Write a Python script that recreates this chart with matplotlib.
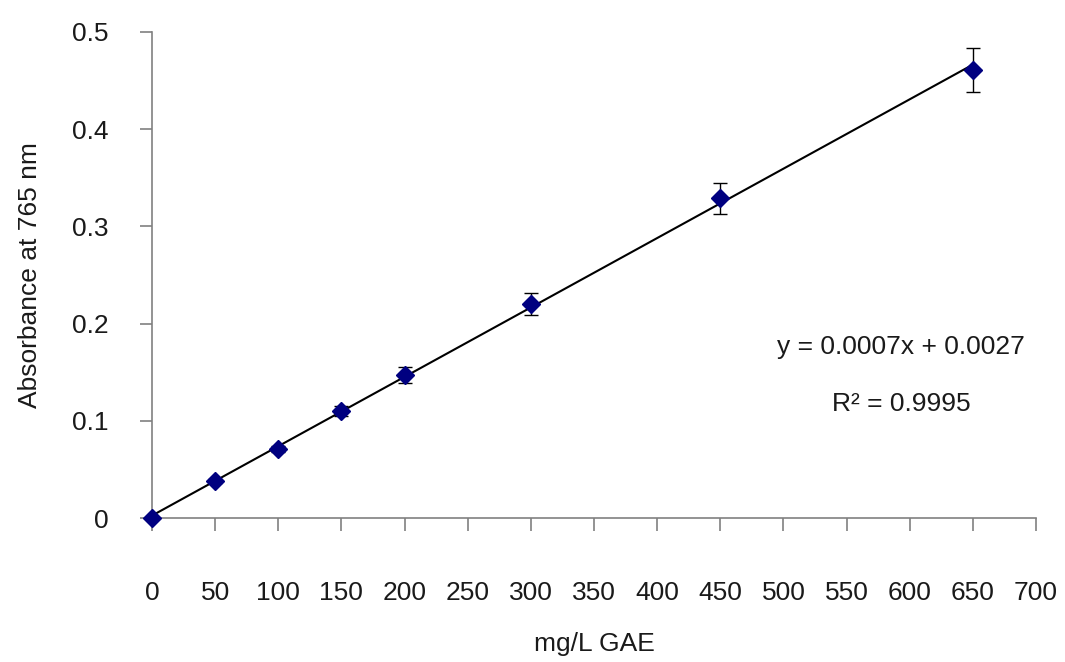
import numpy as np
import matplotlib
matplotlib.use("Agg")
import matplotlib.pyplot as plt

conc = [0, 50, 100, 150, 200, 300, 450, 650]
absorb = [0.0, 0.038, 0.071, 0.110, 0.147, 0.220, 0.329, 0.461]
err = [0.0, 0.002, 0.003, 0.005, 0.008, 0.011, 0.016, 0.023]
xticks = list(range(0, 701, 50))
yticks = [0, 0.1, 0.2, 0.3, 0.4, 0.5]
ytick_labels = ["0", "0.1", "0.2", "0.3", "0.4", "0.5"]
eq_text = "y = 0.0007x + 0.0027"
r2_text = "R² = 0.9995"

plt.rcParams['font.family'] = ['Liberation Sans', 'DejaVu Sans']
txt = '#1a1a1a'
fs = 19

fig = plt.figure(figsize=(10.65, 6.62), dpi=100)
ax = fig.add_axes([0.1427, 0.2175, 0.8301, 0.7342])

slope, inter = np.polyfit(conc, absorb, 1)
xl = np.array([min(conc), max(conc)])
ax.plot(xl, slope * xl + inter, color='black', lw=1.5, zorder=2, clip_on=False)

ax.errorbar(conc, absorb, yerr=err, fmt='D', color='#000080', ms=9,
            ecolor='black', elinewidth=1, capsize=5, capthick=1, zorder=3,
            clip_on=False)

ax.set_xlim(0, 700)
ax.set_ylim(0, 0.5)
ax.set_xticks(xticks)
ax.set_yticks(yticks)
ax.set_yticklabels(ytick_labels)

for s in ['top', 'right']:
    ax.spines[s].set_visible(False)
for s in ['left', 'bottom']:
    ax.spines[s].set_color('#808080')
    ax.spines[s].set_linewidth(1.2)
ax.spines['left'].set_zorder(1)
ax.tick_params(axis='x', direction='out', length=9, width=1.2, color='#808080',
               pad=36, labelsize=fs, labelcolor=txt)
ax.tick_params(axis='y', direction='out', length=9, width=1.2, color='#808080',
               pad=22, labelsize=fs, labelcolor=txt)

ax.set_xlabel("mg/L GAE", fontsize=fs, color=txt, labelpad=20)
ax.set_ylabel("Absorbance at 765 nm", fontsize=fs, color=txt, labelpad=22)

ax.text(0.8475, 0.351, eq_text, transform=ax.transAxes,
        fontsize=fs, color=txt, ha='center', va='center')
ax.text(0.8475, 0.234, r2_text, transform=ax.transAxes,
        fontsize=fs, color=txt, ha='center', va='center')

fig.savefig("out.png", dpi=100)
